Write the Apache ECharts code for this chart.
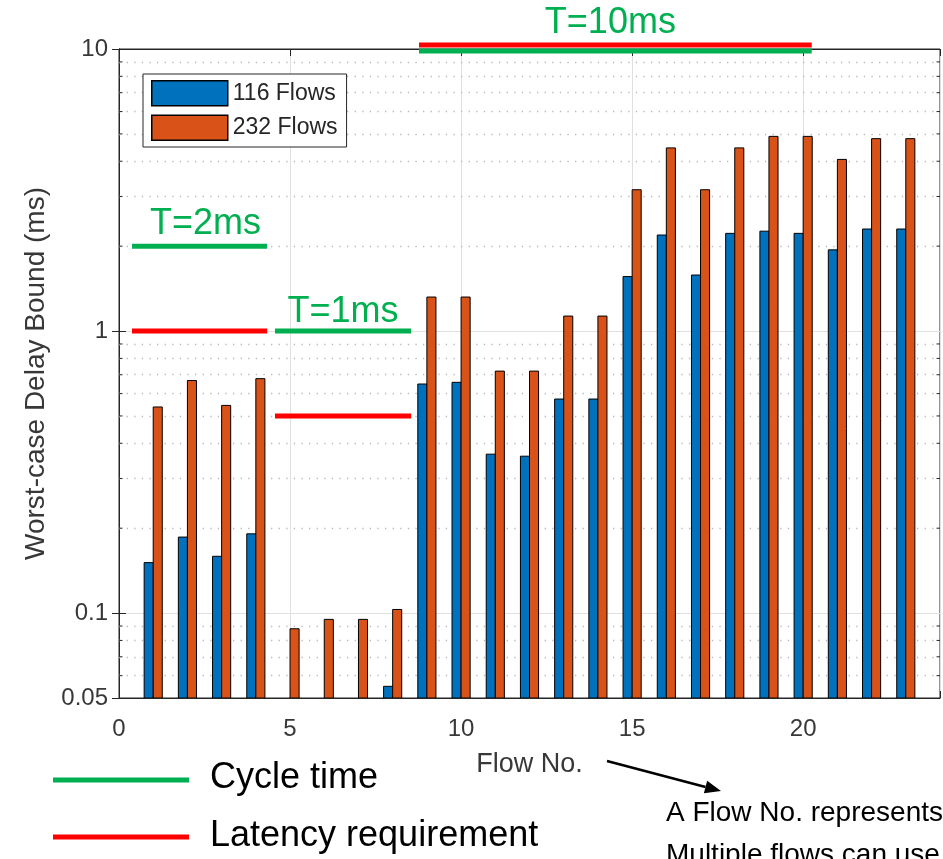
<!DOCTYPE html>
<html><head><meta charset="utf-8">
<script src="https://cdn.jsdelivr.net/npm/echarts@6/dist/echarts.min.js"></script>
<style>html,body{margin:0;padding:0;background:#fff;overflow:hidden}#c{width:943px;height:859px}</style>
</head><body><div id="c"></div>
<script>
// ---- data ----
const flowNo = [1,2,3,4,5,6,7,8,9,10,11,12,13,14,15,16,17,18,19,20,21,22,23];
const flows116 = [0.151,0.186,0.159,0.191,null,null,null,0.055,0.649,0.658,0.366,0.360,0.574,0.574,1.56,2.19,1.58,2.22,2.26,2.22,1.94,2.30,2.30];
const flows232 = [0.538,0.668,0.545,0.678,0.088,0.095,0.095,0.103,1.32,1.32,0.721,0.721,1.13,1.13,3.17,4.46,3.17,4.46,4.90,4.90,4.06,4.81,4.81];
const seriesNames = ['116 Flows','232 Flows'];
const xTicks = [0,5,10,15,20];
const yTicks = [0.05,0.1,1,10];
const yTickLabels = ['0.05','0.1','1','10'];
const yMinor = [0.06,0.07,0.08,0.09,0.2,0.3,0.4,0.5,0.6,0.7,0.8,0.9,2,3,4,5,6,7,8,9];
// annotation segments [x0, x1, y] in data units
const cycleTimeSeg = [[0.38,4.33,2],[4.56,8.54,1],[8.77,20.25,10]];
const latencySeg = [[0.38,4.33,1],[4.56,8.54,0.5],[8.77,20.25,10]];
const cycleLabels = ['T=2ms','T=1ms','T=10ms'];
const legendTexts = ['Cycle time','Latency requirement'];
const noteLines = ['A Flow No. represents a type of flow.','Multiple flows can use the same Flow No.'];

const FONT = '"Liberation Sans", Arial, sans-serif';
const AX = '#262626';
const TXT = '#383838';
const BLUE = '#0072BD', ORANGE = '#D95319';
const GREEN = '#00B050', RED = '#FF0000';
const X_MIN = 0, X_MAX = 24, Y_MIN = 0.05, Y_MAX = 10;

function pairs(vals){ const out=[]; vals.forEach((v,i)=>{ if(v!=null) out.push([flowNo[i], v]); }); return out; }

function makeBar(side, fill){
  return function(params, api){
    const x = api.value(0), v = api.value(1);
    const top = api.coord([x, v]);
    const base = api.coord([x, Y_MIN]);
    const unit = api.coord([x + 1, v])[0] - top[0];
    const w = unit * 0.265;
    const left = side < 0 ? top[0] - w : top[0];
    return {type:'rect', shape:{x:left, y:top[1], width:w, height:base[1]-top[1]},
      style:{fill:fill, stroke:'#000', lineWidth:1}};
  };
}

const chart = echarts.init(document.getElementById('c'), null, {renderer:'canvas'});
const option = {
  animation:false,
  backgroundColor:'#fff',
  textStyle:{fontFamily:FONT},
  grid:{left:119, right:3, top:49, bottom:161, show:true, borderColor:AX, borderWidth:1, backgroundColor:'#fff'},
  legend:{
    orient:'vertical', left:143, top:74, itemWidth:76, itemHeight:25, itemGap:8, z:100, zlevel:0,
    padding:[6,9,6,8], borderColor:AX, borderWidth:1, backgroundColor:'#fff', borderRadius:0,
    textStyle:{fontSize:23, color:AX, fontFamily:FONT},
    data:[
      {name:seriesNames[0], icon:'rect', itemStyle:{color:BLUE, borderColor:'#000', borderWidth:1.5}},
      {name:seriesNames[1], icon:'rect', itemStyle:{color:ORANGE, borderColor:'#000', borderWidth:1.5}}
    ]
  },
  xAxis:[
    {type:'value', min:X_MIN, max:X_MAX, interval:5, position:'bottom',
      axisLine:{show:true, lineStyle:{color:AX}},
      axisTick:{show:true, inside:true, length:7, lineStyle:{color:AX}},
      axisLabel:{color:TXT, fontSize:24, margin:19, fontFamily:FONT,
        formatter:v => xTicks.indexOf(v) >= 0 ? String(v) : ''},
      splitLine:{show:true, lineStyle:{color:'#e0e0e0', width:1}},
      name:'Flow No.', nameLocation:'middle', nameGap:53,
      nameTextStyle:{fontSize:27, color:TXT, fontFamily:FONT}},
    {type:'value', min:X_MIN, max:X_MAX, interval:5, position:'top',
      axisLine:{show:true, lineStyle:{color:AX}},
      axisTick:{show:true, inside:true, length:7, lineStyle:{color:AX}},
      axisLabel:{show:false}, splitLine:{show:false}}
  ],
  yAxis:[
    {type:'log', logBase:10, min:Y_MIN, max:Y_MAX, position:'left',
      axisLine:{show:true, lineStyle:{color:AX}},
      axisTick:{show:true, inside:true, length:7, lineStyle:{color:AX}},
      axisLabel:{color:TXT, fontSize:24, margin:11, fontFamily:FONT,
        formatter:v => { let best=0; yTicks.forEach((t,i)=>{ if(Math.abs(Math.log10(t)-Math.log10(v)) < Math.abs(Math.log10(yTicks[best])-Math.log10(v))) best=i; }); return Math.abs(Math.log10(yTicks[best])-Math.log10(v))<0.01 ? yTickLabels[best] : ''; }},
      splitLine:{show:true, lineStyle:{color:'#e0e0e0', width:1}},
      name:'Worst-case Delay Bound (ms)', nameLocation:'middle', nameGap:66, nameRotate:90,
      nameTextStyle:{fontSize:28, color:TXT, fontFamily:FONT}},
    {type:'log', logBase:10, min:Y_MIN, max:Y_MAX, position:'right',
      axisLine:{show:true, lineStyle:{color:AX}},
      axisTick:{show:true, inside:true, length:7, lineStyle:{color:AX}},
      axisLabel:{show:false}, splitLine:{show:false}}
  ],
  series:[
    {type:'line', name:'minorGrid', data:[], silent:true, xAxisIndex:0, yAxisIndex:0, z:1,
      markLine:{silent:true, symbol:['none','none'], label:{show:false}, animation:false, z:1,
        lineStyle:{color:'#b8b8b8', width:1.3, type:[1.3,6.3]},
        emphasis:{disabled:true},
        data: yMinor.map(v => ({yAxis:v}))}},
    {type:'custom', name:seriesNames[0], xAxisIndex:0, yAxisIndex:0, clip:true, z:3,
      itemStyle:{color:BLUE}, encode:{x:0, y:1},
      data:pairs(flows116), renderItem:makeBar(-1, BLUE)},
    {type:'custom', name:seriesNames[1], xAxisIndex:0, yAxisIndex:0, clip:true, z:3,
      itemStyle:{color:ORANGE}, encode:{x:0, y:1},
      data:pairs(flows232), renderItem:makeBar(1, ORANGE)}
  ]
};
chart.setOption(option);

// ---- overlay annotations computed through the chart's own scales ----
const P = (x, y) => chart.convertToPixel({gridIndex:0}, [x, y]);
const g = [];
const xl = P(X_MIN, 1)[0], xr = P(X_MAX, 1)[0];
yMinor.forEach(v => {
  const y = P(0, v)[1];
  g.push({type:'line', shape:{x1:xl, y1:y, x2:xl+3.5, y2:y}, style:{stroke:AX, lineWidth:1}, z:50});
  g.push({type:'line', shape:{x1:xr, y1:y, x2:xr-3.5, y2:y}, style:{stroke:AX, lineWidth:1}, z:50});
});
function seg(s, color, dy){
  const a = P(s[0], s[2]), b = P(s[1], s[2]);
  g.push({type:'line', shape:{x1:a[0], y1:a[1]+dy, x2:b[0], y2:b[1]+dy}, style:{stroke:color, lineWidth:5, lineCap:'butt'}, z:60});
}
cycleTimeSeg.forEach((s,i) => seg(s, GREEN, i === 2 ? 2 : 0));
latencySeg.forEach((s,i) => seg(s, RED, i === 2 ? -4 : 0));
cycleTimeSeg.forEach((s,i) => {
  const a = P(s[0], s[2]), b = P(s[1], s[2]);
  const cx = (a[0]+b[0])/2 + (i===0 ? 6 : (i===2 ? -5 : 0));
  const baseline = a[1] - (i===0 ? 10 : (i===1 ? 7 : 14));
  g.push({type:'text', x:cx, y:baseline - 12, z:61,
    style:{text:cycleLabels[i], fontSize:36, fontFamily:FONT, fill:GREEN, align:'center', verticalAlign:'middle'}});
});
// bottom-left key
g.push({type:'line', shape:{x1:53, y1:780, x2:189, y2:780}, style:{stroke:GREEN, lineWidth:5}, z:60});
g.push({type:'line', shape:{x1:53, y1:837, x2:189, y2:837}, style:{stroke:RED, lineWidth:5}, z:60});
g.push({type:'text', x:210, y:778, z:61, style:{text:legendTexts[0], fontSize:36, fontFamily:FONT, fill:'#000', align:'left', verticalAlign:'middle'}});
g.push({type:'text', x:210, y:836, z:61, style:{text:legendTexts[1], fontSize:36, fontFamily:FONT, fill:'#000', align:'left', verticalAlign:'middle'}});
// arrow + note
(function(){
  const x1=607, y1=761, x2=721, y2=791;
  const ang = Math.atan2(y2-y1, x2-x1), L=16, H=6.5;
  const bx = x2 - L*Math.cos(ang), by = y2 - L*Math.sin(ang);
  g.push({type:'line', shape:{x1:x1, y1:y1, x2:bx, y2:by}, style:{stroke:'#000', lineWidth:2.5}, z:60});
  g.push({type:'polygon', shape:{points:[[x2,y2],[bx - H*Math.sin(ang), by + H*Math.cos(ang)],[bx + H*Math.sin(ang), by - H*Math.cos(ang)]]}, style:{fill:'#000'}, z:60});
})();
g.push({type:'text', x:666, y:813, z:61, style:{text:noteLines[0], fontSize:28, fontFamily:FONT, fill:'#000', align:'left', verticalAlign:'middle'}});
g.push({type:'text', x:666, y:855, z:61, style:{text:noteLines[1], fontSize:28, fontFamily:FONT, fill:'#000', align:'left', verticalAlign:'middle'}});
chart.setOption({graphic:g});
</script>
</body></html>
